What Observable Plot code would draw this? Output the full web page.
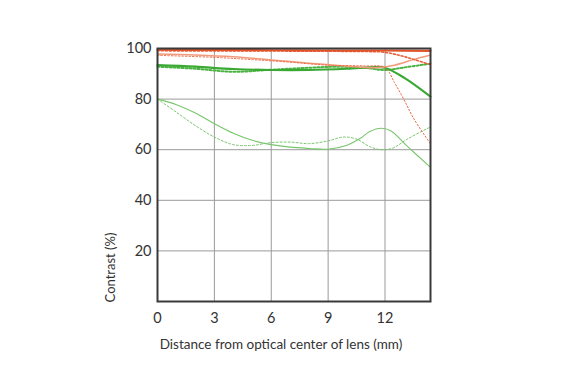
<!DOCTYPE html>
<html><head><meta charset="utf-8">
<script src="https://cdn.jsdelivr.net/npm/d3@7"></script>
<script src="https://cdn.jsdelivr.net/npm/@observablehq/plot@0.6"></script>
<style>body{margin:0;background:#fff;}</style>
</head><body><div id="chart"></div>
<script>
const xTicks = [0, 3, 6, 9, 12];
const yTicks = [20, 40, 60, 80, 100];
const gridXValues = [3, 6, 9, 12];
const gridYValues = [20, 40, 60, 80];
const xLabel = "Distance from optical center of lens (mm)";
const yLabel = "Contrast (%)";

// Thick red solid
const redSolidX = [0, 3, 6, 9, 12, 14.4];
const redSolidY = [99.5, 99.4, 99.3, 99.2, 99.2, 99.1];
// Red dotted
const redDotX = [0, 3, 6, 9, 11, 12, 12.8, 13.6, 14.4];
const redDotY = [99.1, 99.0, 99.0, 98.9, 98.8, 98.5, 97.2, 95.5, 93.6];
// Salmon solid
const salmonX = [0, 2, 4, 6, 8, 10, 11.5, 12.5, 13.5, 14.4];
const salmonY = [97.8, 97.4, 96.7, 95.5, 94.2, 93.0, 92.4, 93.4, 95.6, 97.4];
// Red thin dotted (steep drop)
const redThinX = [0, 3, 5, 7, 9, 11, 12, 12.5, 13, 13.5, 14.4];
const redThinY = [97.3, 96.5, 95.6, 94.6, 93.4, 93.1, 92.5, 86.5, 79.8, 72.5, 62.3];
// Thick green solid
const greenSolidX = [0, 2, 4, 6, 8, 10, 11.5, 12, 13, 14.4];
const greenSolidY = [93.4, 92.8, 91.9, 91.5, 91.5, 92.0, 92.6, 92.4, 88.5, 81.0];
// Thick green dotted
const greenDotX = [0, 2, 4, 6, 8, 9.5, 11, 12, 13, 14.4];
const greenDotY = [92.8, 92.0, 90.8, 91.6, 92.4, 92.8, 92.3, 91.5, 92.5, 94.0];
// Thin green solid
const thinSolidX = [0, 1, 2, 3, 4, 5, 6, 7, 8, 9, 10, 10.7, 11.2, 11.8, 12.3, 13.2, 14.4];
const thinSolidY = [80, 77.8, 74.5, 70.3, 66.5, 63.7, 62.0, 61.0, 60.5, 60.2, 61.8, 64.5, 67.2, 68.5, 67.5, 61.2, 53.0];
// Thin green dotted
const thinDotX = [0, 1, 2, 3, 4, 5, 6, 7, 8, 9, 9.8, 10.5, 11.2, 11.8, 12.4, 13.2, 14.4];
const thinDotY = [80, 74.8, 69.5, 65.0, 62.0, 61.7, 62.8, 63.0, 62.4, 63.5, 65.0, 64.2, 61.2, 60.0, 60.6, 64.3, 69.0];

function rows(xs, ys) { return xs.map((x, i) => ({x, y: ys[i]})); }

const font = "Lato, 'Open Sans', sans-serif";
const curve = "catmull-rom";

const chart = Plot.plot({
  width: 570,
  height: 365,
  marginLeft: 157,
  marginRight: 140,
  marginTop: 48,
  marginBottom: 64,
  style: {fontFamily: font, color: "#333", background: "#fff"},
  x: {domain: [0, 14.4]},
  y: {domain: [0, 100]},
  marks: [
    Plot.gridX(gridXValues, {stroke: "#9a9a9a", strokeOpacity: 1, strokeWidth: 1}),
    Plot.gridY(gridYValues, {stroke: "#9a9a9a", strokeOpacity: 1, strokeWidth: 1}),
    Plot.line(rows(thinDotX, thinDotY), {x: "x", y: "y", stroke: "#78c66c", strokeWidth: 1, strokeDasharray: "2,2", curve}),
    Plot.line(rows(thinSolidX, thinSolidY), {x: "x", y: "y", stroke: "#78c66c", strokeWidth: 1.1, curve}),
    Plot.line(rows(greenDotX, greenDotY), {x: "x", y: "y", stroke: "#4cb244", strokeWidth: 2, strokeDasharray: "2,2", curve}),
    Plot.line(rows(greenSolidX, greenSolidY), {x: "x", y: "y", stroke: "#3aa933", strokeWidth: 2.2, curve}),
    Plot.line(rows(salmonX, salmonY), {x: "x", y: "y", stroke: "#f29b7c", strokeWidth: 1.5, curve}),
    Plot.line(rows(redThinX, redThinY), {x: "x", y: "y", stroke: "#ec6a45", strokeWidth: 1, strokeDasharray: "1.5,2", curve}),
    Plot.line(rows(redDotX, redDotY), {x: "x", y: "y", stroke: "#e8603a", strokeWidth: 1.6, strokeDasharray: "2,2", curve}),
    Plot.line(rows(redSolidX, redSolidY), {x: "x", y: "y", stroke: "#e0532b", strokeWidth: 2.2, curve}),
    Plot.frame({stroke: "#3a3a3a", strokeWidth: 2}),
    Plot.axisX(xTicks, {tickSize: 0, tickPadding: 11, fontSize: 14.5, label: null}),
    Plot.axisY(yTicks, {tickSize: 0, tickPadding: 6, fontSize: 14.5, label: null}),
    Plot.text([xLabel], {frameAnchor: "bottom", dx: -13, dy: 47, fontSize: 13.5, fill: "#333"}),
    Plot.text([yLabel], {frameAnchor: "bottom-left", textAnchor: "middle", rotate: -90, dx: -43, dy: -34, fontSize: 13, fill: "#333"})
  ]
});
document.getElementById("chart").appendChild(chart);
</script>
</body></html>
